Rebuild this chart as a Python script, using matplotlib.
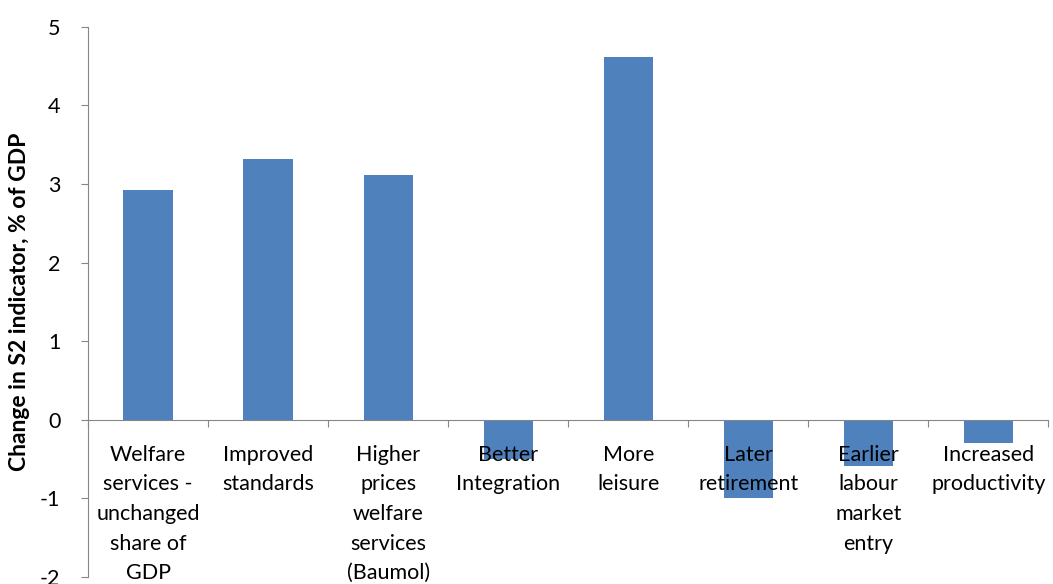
import numpy as np
import matplotlib.pyplot as plt

# --- data ---
categories = [
    "Welfare\nservices -\nunchanged\nshare of\nGDP",
    "Improved\nstandards",
    "Higher\nprices\nwelfare\nservices\n(Baumol)",
    "Better\nIntegration",
    "More\nleisure",
    "Later\nretirement",
    "Earlier\nlabour\nmarket\nentry",
    "Increased\nproductivity",
]
values = [2.93, 3.32, 3.11, -0.5, 4.62, -1.0, -0.59, -0.29]
yticks = [-2, -1, 0, 1, 2, 3, 4, 5]

plt.rcParams['font.family'] = ['Lato', 'DejaVu Sans']

fig = plt.figure(figsize=(10.53, 5.84), dpi=100)
ax = fig.add_axes([0.0836, 0.012, 0.912, 0.942])

x = np.arange(len(categories))
ax.bar(x, values, width=0.41, color='#4F81BD')

ax.set_xlim(-0.5, len(categories) - 0.5)
ax.set_ylim(-2, 5)

# spines
for s in ['top', 'right']:
    ax.spines[s].set_visible(False)
ax.spines['bottom'].set_position(('data', 0))
ax.spines['bottom'].set_color('#868686')
ax.spines['left'].set_color('#868686')

# y axis
ax.set_yticks(yticks)
ax.set_yticklabels([str(v) for v in yticks], fontsize=15.5)
ax.tick_params(axis='y', direction='out', length=5, color='#868686', pad=15)
fig.text(20 / 1053, 1 - 302 / 584, 'Change in S2 indicator, % of GDP',
         rotation=90, ha='center', va='center', fontsize=16.5, fontweight='bold')

# x axis: ticks at boundaries, labels at centers
ax.set_xticks(np.arange(-0.5, len(categories), 1.0))
ax.set_xticklabels([])
ax.tick_params(axis='x', which='major', direction='out', length=5, color='#868686')
ax.set_xticks(x, minor=True)
ax.set_xticklabels(categories, minor=True, fontsize=15.5, linespacing=1.6, va='top')
ax.tick_params(axis='x', which='minor', length=0, pad=18)

fig.savefig('out.png', dpi=100)
